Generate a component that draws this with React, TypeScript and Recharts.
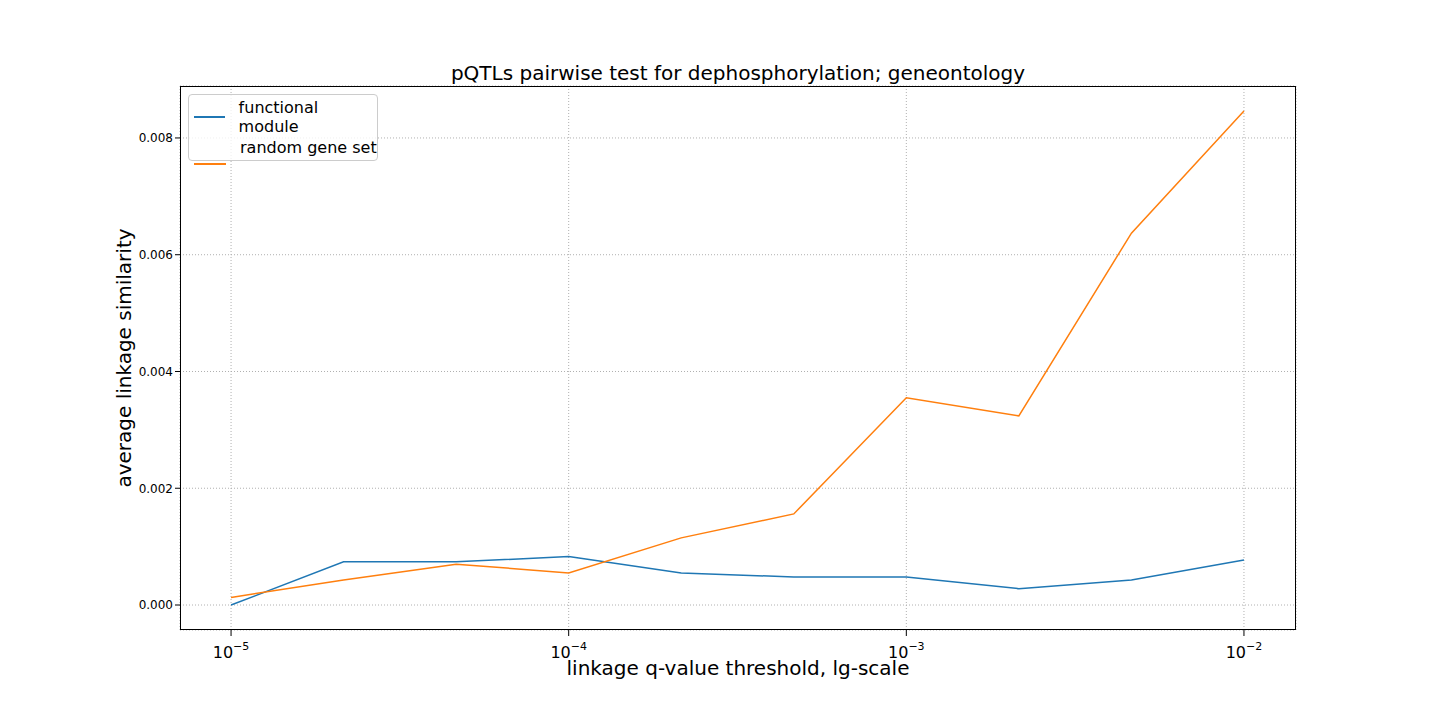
import { LineChart, Line, XAxis, YAxis, CartesianGrid } from "recharts";

// x thresholds (log-spaced) and measured similarities
const thresholds = [1e-5, 2.154e-5, 4.642e-5, 1e-4, 2.154e-4, 4.642e-4, 1e-3, 2.154e-3, 4.642e-3, 1e-2];
const functionalModule = [0, 0.00074, 0.00074, 0.00083, 0.00055, 0.00048, 0.00048, 0.00028, 0.00043, 0.00077];
const randomGeneSet = [0.00013, 0.00043, 0.0007, 0.00055, 0.00115, 0.00156, 0.00355, 0.00324, 0.00637, 0.00846];
const majorTicks = [1e-5, 1e-4, 1e-3, 1e-2];
const yTicks = [0, 0.002, 0.004, 0.006, 0.008];
const minorTicks: number[] = [];
[1e-6, 1e-5, 1e-4, 1e-3, 1e-2].forEach((d) => {
  for (let k = 2; k <= 9; k++) {
    const v = d * k;
    if (v > 7.06e-6 && v < 1.43e-2) minorTicks.push(v);
  }
});

const data = thresholds.map((t, i) => ({
  t,
  functional: functionalModule[i],
  random: randomGeneSet[i],
}));

const FONT = "DejaVu Sans, sans-serif";

const LogTick = (props: any) => {
  const { x, y, payload } = props;
  const exp = Math.round(Math.log10(payload.value));
  return (
    <g>
      <line x1={x} x2={x} y1={y - 8} y2={y - 2} stroke="#000" />
      <text x={x} y={y + 20} textAnchor="middle" fontSize={16} fontFamily={FONT} fill="#000">
        10
        <tspan dy={-8} fontSize={11}>{"\u2212" + Math.abs(exp)}</tspan>
      </text>
    </g>
  );
};

export default function App() {
  return (
    <div style={{ position: "absolute", left: 0, top: 0, width: 1440, height: 720, background: "#fff", fontFamily: FONT }}>
      <div style={{ position: "absolute", top: 61, left: 180, width: 1116, textAlign: "center", fontSize: 20 }}>
        pQTLs pairwise test for dephosphorylation; geneontology
      </div>
      <LineChart width={1440} height={720} data={data} margin={{ top: 86, right: 144, bottom: 40, left: 80 }}>
        <CartesianGrid stroke="#b0b0b0" strokeDasharray="1 2" verticalPoints={undefined} />
        <XAxis
          dataKey="t"
          type="number"
          scale="log"
          domain={[7.06e-6, 1.426e-2]}
          allowDataOverflow
          ticks={majorTicks}
          tick={<LogTick />}
          tickLine={false}
          axisLine={false}
          height={50}
        />
        <XAxis
          xAxisId="minor"
          dataKey="t"
          type="number"
          scale="log"
          domain={[7.06e-6, 1.426e-2]}
          allowDataOverflow
          ticks={minorTicks}
          tick={false}
          tickSize={3}
          tickLine={{ stroke: "#000" }}
          axisLine={false}
          height={0}
        />
        <YAxis
          type="number"
          domain={[-0.000428, 0.00889]}
          allowDataOverflow
          ticks={yTicks}
          tickFormatter={(v: number) => v.toFixed(3)}
          tick={{ fontSize: 12, fill: "#000", fontFamily: FONT }}
          tickLine={{ stroke: "#000" }}
          tickSize={5}
          axisLine={false}
          width={100}
        />
        <Line dataKey="functional" stroke="#1f77b4" strokeWidth={1.5} dot={false} isAnimationActive={false} />
        <Line dataKey="random" stroke="#ff7f0e" strokeWidth={1.5} dot={false} isAnimationActive={false} />
      </LineChart>
      <div style={{ position: "absolute", left: 180, top: 86, width: 1116, height: 544, border: "1px solid #000", boxSizing: "border-box", pointerEvents: "none" }} />
      <div style={{ position: "absolute", left: 188, top: 94, width: 190, height: 67, border: "1px solid #ccc", borderRadius: 4, background: "rgba(255,255,255,0.8)", boxSizing: "border-box", fontSize: 16 }}>
        <div style={{ display: "flex", alignItems: "center", marginTop: 3 }}>
          <span style={{ width: 32, height: 2, background: "#1f77b4", margin: "0 14px 0 5px" }} />
          functional module
        </div>
        <div style={{ display: "flex", alignItems: "center", marginTop: 2 }}>
          <span style={{ width: 32, height: 2, background: "#ff7f0e", margin: "0 14px 0 5px", alignSelf: "flex-end", marginBottom: -8 }} />
          random gene set
        </div>
      </div>
      <div style={{ position: "absolute", top: 656, left: 180, width: 1116, textAlign: "center", fontSize: 20 }}>
        linkage q-value threshold, lg-scale
      </div>
      <div style={{ position: "absolute", left: 124, top: 358, transform: "translate(-50%, -50%) rotate(-90deg)", fontSize: 20, whiteSpace: "nowrap" }}>
        average linkage similarity
      </div>
    </div>
  );
}
